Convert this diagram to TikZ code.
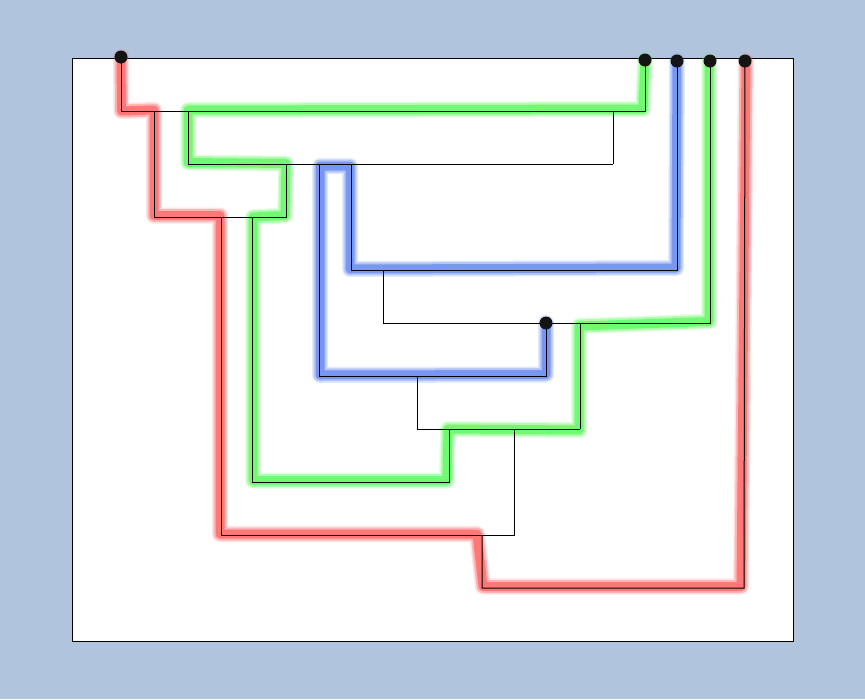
\documentclass[tikz,border=0pt]{standalone}
\usetikzlibrary{calc}
\definecolor{bgblue}{RGB}{176,196,222}
\definecolor{glowred}{RGB}{255,80,80}
\definecolor{glowgreen}{RGB}{70,250,70}
\definecolor{glowblue}{RGB}{80,120,240}
\tikzset{
  thinline/.style={draw=black, line width=1pt},
  glowwide/.style={line width=16pt, opacity=0.16, line join=round, line cap=round},
  glowmid/.style={line width=13pt, opacity=0.3, line join=round, line cap=round},
  glowcore/.style={line width=9pt, opacity=0.6, line join=round, line cap=round},
  pin/.style={circle, fill=black!92, inner sep=0pt, minimum size=13pt},
}
\newcommand{\glowpath}[2]{%
  \draw[glowwide, draw=#1] #2;
  \draw[glowmid, draw=#1] #2;
  \draw[glowcore, draw=#1] #2;}
\begin{document}
\begin{tikzpicture}[x=1pt, y=-1pt]
\useasboundingbox (0,0) rectangle (865,699);
\fill[bgblue] (0,0) rectangle (865,699);
\draw[fill=white, line width=0.8pt] (72,58) rectangle (793,641);

% junction coordinates
\coordinate (d1) at (121,57);
\coordinate (d2) at (645,60);
\coordinate (d3) at (677,61);
\coordinate (d4) at (710,61);
\coordinate (d5) at (745,61);
\coordinate (d6) at (546,323);
\coordinate (a1) at (121,111);
\coordinate (a2) at (645,111);
\coordinate (a3) at (613,111);
\coordinate (a4) at (613,164);
\coordinate (a5) at (154,111);
\coordinate (a6) at (154,217);
\coordinate (a7) at (188,111);
\coordinate (a8) at (188,164);
\coordinate (a9) at (286,164);
\coordinate (a10) at (286,217);
\coordinate (a11) at (221,217);
\coordinate (a12) at (221,535);
\coordinate (a13) at (252,217);
\coordinate (a14) at (252,482);
\coordinate (a15) at (319,164);
\coordinate (a16) at (319,376);
\coordinate (a17) at (351,164);
\coordinate (a18) at (351,270);
\coordinate (a19) at (677,270);
\coordinate (a20) at (383,270);
\coordinate (a21) at (383,323);
\coordinate (a22) at (710,323);
\coordinate (a23) at (546,376);
\coordinate (a24) at (580,323);
\coordinate (a25) at (580,429);
\coordinate (a26) at (417,376);
\coordinate (a27) at (417,429);
\coordinate (a28) at (449,429);
\coordinate (a29) at (449,482);
\coordinate (a30) at (514,429);
\coordinate (a31) at (514,535);
\coordinate (a32) at (482,535);
\coordinate (a33) at (482,588);
\coordinate (a34) at (744,588);

% glowing routes
\glowpath{glowred}{(d1) -- ([xshift=0.5]a1) -- ([yshift=1]a5) -- ([yshift=1.5]a6) -- ([xshift=-1,yshift=1.5]a11) -- ([xshift=-1,yshift=1]a12) -- ([xshift=-5,yshift=1]a32) -- ([xshift=1,yshift=1.5]a33) -- ([xshift=-3,yshift=1.5]a34) -- ([xshift=1]d5)}
\glowpath{glowgreen}{(d2) -- ([xshift=-2,yshift=2]a2) -- ([yshift=1]a7) -- ([yshift=1.5]a8) -- ([yshift=0.5]a9) -- ([xshift=-1,yshift=1.5]a10) -- ([xshift=1]a13) -- ([xshift=1,yshift=1.5]a14) -- ([xshift=-2,yshift=1.5]a29) -- ([xshift=-1]a28) -- ([xshift=-1,yshift=-1]a25) -- ([xshift=-1,yshift=-3]a24) -- ([xshift=-1,yshift=1.5]a22) -- ([xshift=-1]d4)}
\glowpath{glowblue}{(d3) -- ([xshift=-1,yshift=2]a19) -- ([xshift=-1,yshift=1]a18) -- ([xshift=-1,yshift=-2]a17) -- ([xshift=1,yshift=-2]a15) -- ([xshift=1,yshift=1]a16) -- ([yshift=1.5]a23) -- (d6)}

% thin tree lines
\draw[thinline] (d1) -- (a1) -- (a2) -- (d2);
\draw[thinline] (a3) -- (a4);
\draw[thinline] (a5) -- (a6) -- (a10) -- (a9);
\draw[thinline] (a7) -- (a8) -- (a4);
\draw[thinline] (a11) -- (a12) -- (a31) -- (a30);
\draw[thinline] (a13) -- (a14) -- (a29) -- (a28);
\draw[thinline] (a15) -- (a16) -- (a23) -- (d6);
\draw[thinline] (a17) -- (a18) -- (a19) -- (d3);
\draw[thinline] (a20) -- (a21) -- (a22) -- (d4);
\draw[thinline] (a24) -- (a25);
\draw[thinline] (a26) -- (a27) -- (a25);
\draw[thinline] (a32) -- (a33) -- (a34) -- (d5);

% pins
\node[pin] (p1) at (d1) {};
\node[pin] (p2) at (d2) {};
\node[pin] (p3) at (d3) {};
\node[pin] (p4) at (d4) {};
\node[pin] (p5) at (d5) {};
\node[pin] (p6) at (d6) {};
\end{tikzpicture}
\end{document}
